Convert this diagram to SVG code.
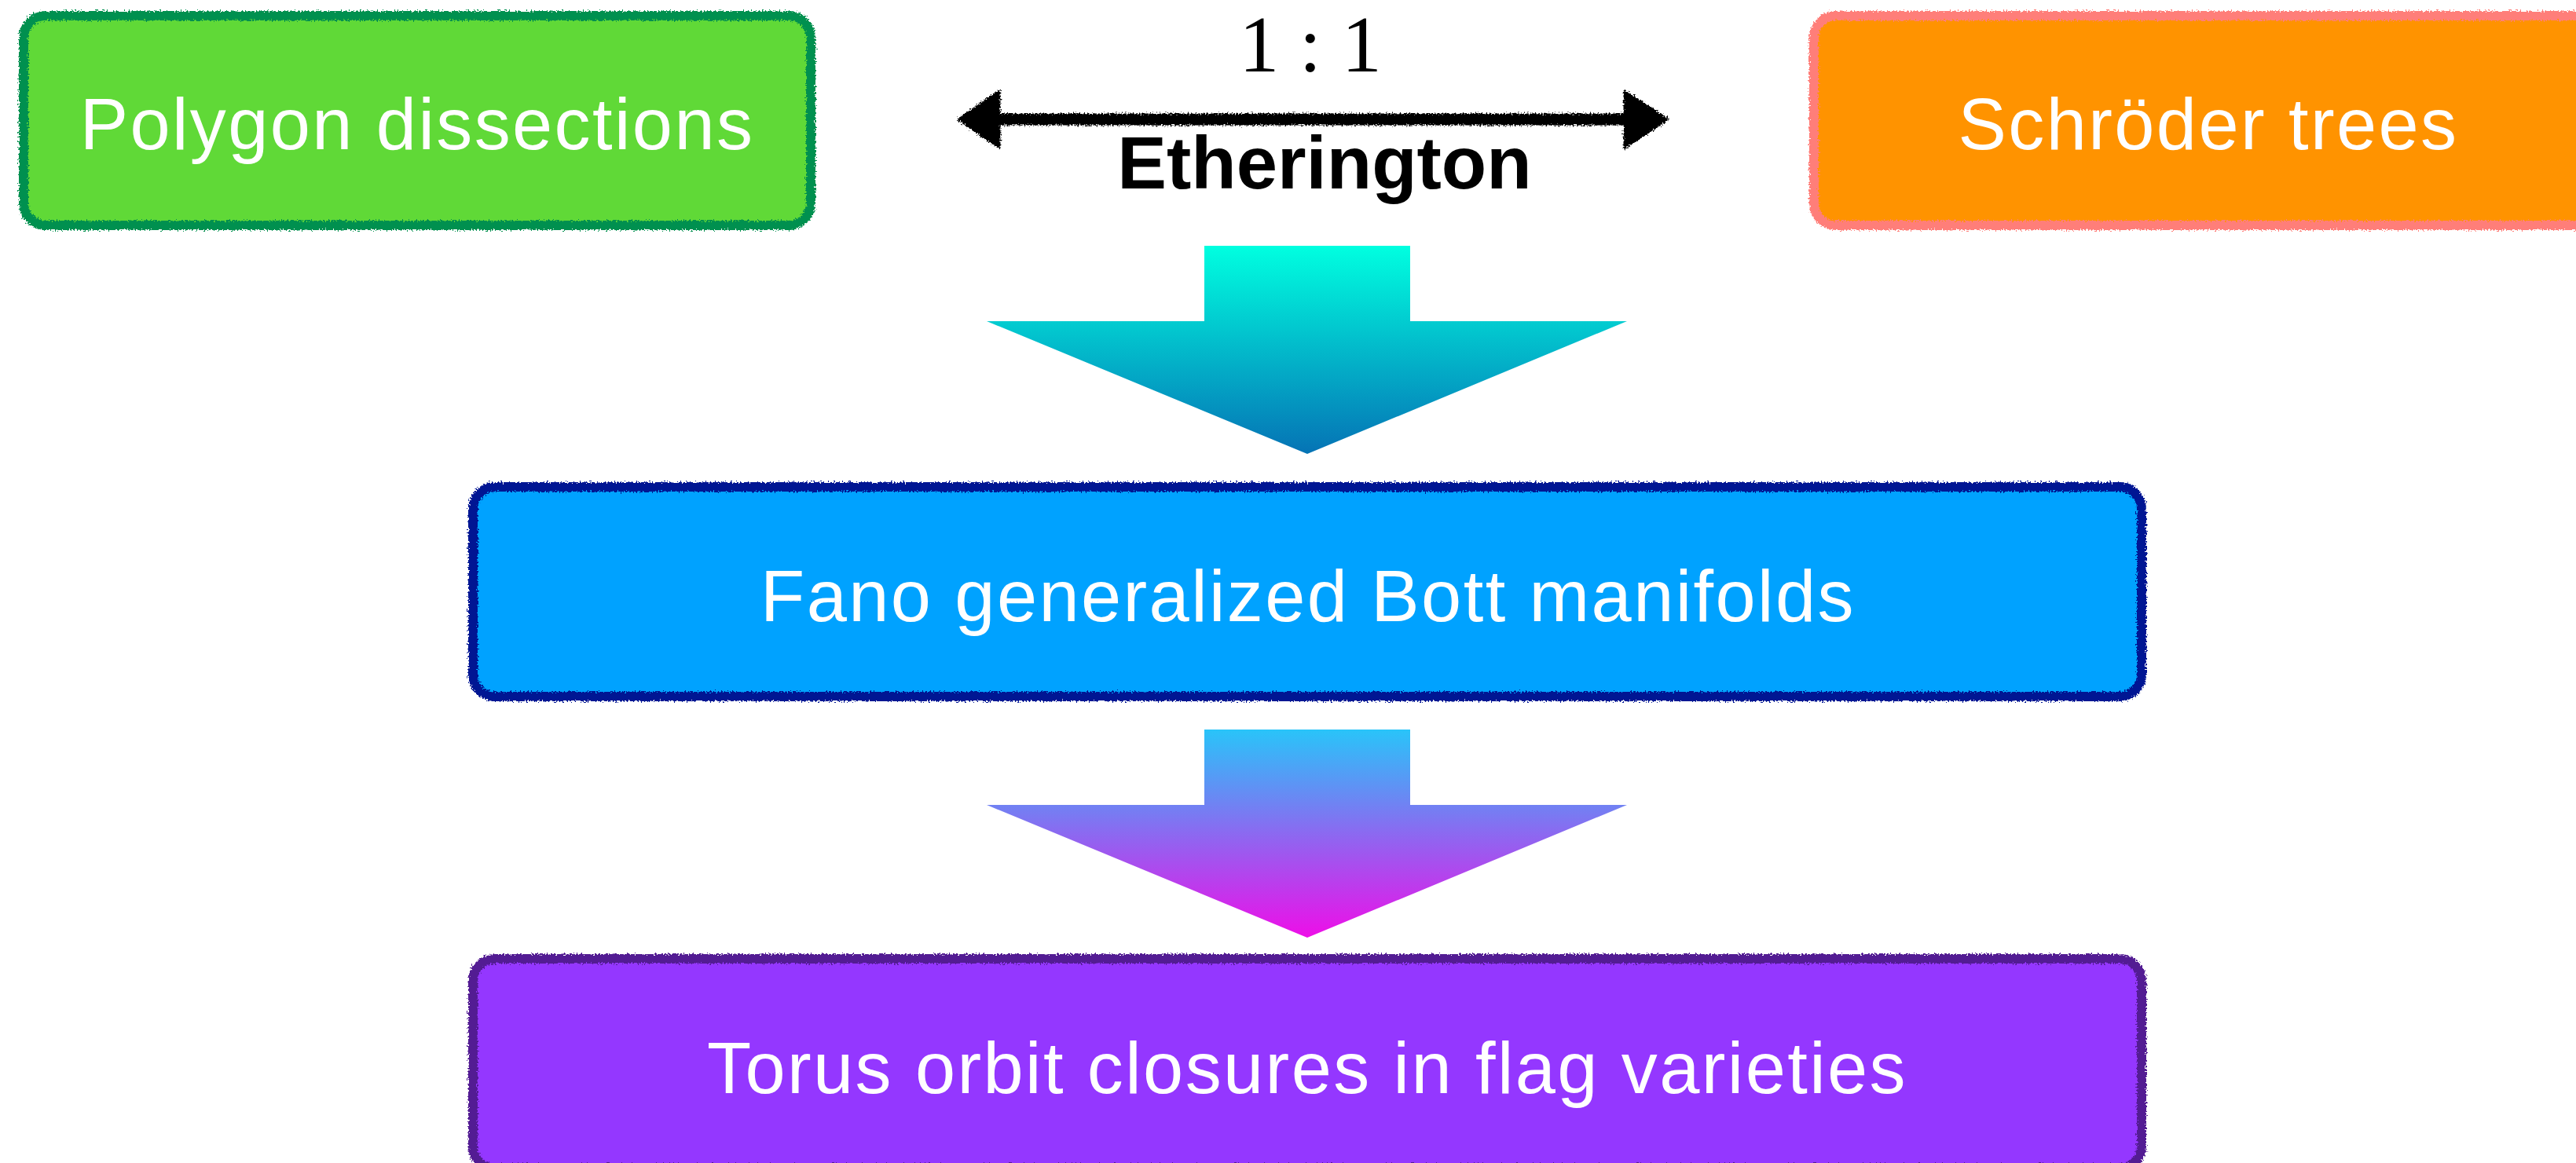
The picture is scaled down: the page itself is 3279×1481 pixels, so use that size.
<svg xmlns="http://www.w3.org/2000/svg" width="3279" height="1481" viewBox="0 0 3279 1481">
  <defs>
    <style>
      .label { font-family: "Liberation Sans", Arial, sans-serif; font-size: 92px; fill: #ffffff; letter-spacing: 2.4px; text-anchor: middle; }
      .edge-label { font-family: "Liberation Sans", Arial, sans-serif; font-weight: bold; font-size: 94px; fill: #000000; text-anchor: middle; }
      .ratio { font-family: "Liberation Serif", "Times New Roman", serif; font-size: 102px; fill: #000000; text-anchor: middle; }
      .border { fill: none; stroke-width: 12; filter: url(#rough); }
    </style>
    <!-- chalky, hand-drawn edge for borders and the two-way arrow -->
    <filter id="rough" filterUnits="userSpaceOnUse" x="0" y="0" width="3400" height="1600">
      <feTurbulence type="fractalNoise" baseFrequency="0.5" numOctaves="2" seed="7" result="noise"/>
      <feDisplacementMap in="SourceGraphic" in2="noise" scale="8" xChannelSelector="R" yChannelSelector="G"/>
    </filter>
    <linearGradient id="gradTeal" gradientUnits="userSpaceOnUse" x1="0" y1="313" x2="0" y2="578">
      <stop offset="0" stop-color="#00FFE0"/>
      <stop offset="1" stop-color="#0573B5"/>
    </linearGradient>
    <linearGradient id="gradViolet" gradientUnits="userSpaceOnUse" x1="0" y1="929" x2="0" y2="1194">
      <stop offset="0" stop-color="#29C4F9"/>
      <stop offset="1" stop-color="#EE0EE8"/>
    </linearGradient>
  </defs>

  <rect width="3279" height="1481" fill="#ffffff"/>

  <!-- connectors -->
  <g id="connectors">
    <g id="edge-etherington">
      <path d="M1220,152 L1272,116 L1272,146 L2068,146 L2068,116 L2123,152 L2068,188 L2068,158 L1272,158 L1272,188 Z" fill="#000000" stroke="#000000" stroke-width="3" stroke-linejoin="round" filter="url(#rough)"/>
      <text class="ratio" x="1668" y="91">1 : 1</text>
      <text class="edge-label" x="1686" y="240">Etherington</text>
    </g>
    <polygon id="edge-to-fano" points="1533,313 1795,313 1795,409 2071,409 1664,578 1256,409 1533,409" fill="url(#gradTeal)"/>
    <polygon id="edge-to-torus" points="1533,929 1795,929 1795,1025 2071,1025 1664,1194 1256,1025 1533,1025" fill="url(#gradViolet)"/>
  </g>

  <!-- nodes -->
  <g id="node-polygon">
    <rect x="30" y="20" width="1002" height="267" rx="28" fill="#60D937"/>
    <rect class="border" x="30" y="20" width="1002" height="267" rx="28" stroke="#00904F"/>
    <text class="label" x="531" y="190">Polygon dissections</text>
  </g>

  <g id="node-schroder">
    <rect x="2309" y="20" width="1004" height="267" rx="28" fill="#FF9300"/>
    <rect class="border" x="2309" y="20" width="1004" height="267" rx="28" stroke="#FF7E79"/>
    <text class="label" x="2811" y="190">Schröder trees</text>
  </g>

  <g id="node-fano">
    <rect x="602" y="620" width="2124" height="267" rx="28" fill="#00A2FF"/>
    <rect class="border" x="602" y="620" width="2124" height="267" rx="28" stroke="#011993"/>
    <text class="label" x="1665" y="791">Fano generalized Bott manifolds</text>
  </g>

  <g id="node-torus">
    <rect x="602" y="1221" width="2124" height="267" rx="28" fill="#9437FF"/>
    <rect class="border" x="602" y="1221" width="2124" height="267" rx="28" stroke="#531B93"/>
    <text class="label" x="1664" y="1392">Torus orbit closures in flag varieties</text>
  </g>
</svg>
